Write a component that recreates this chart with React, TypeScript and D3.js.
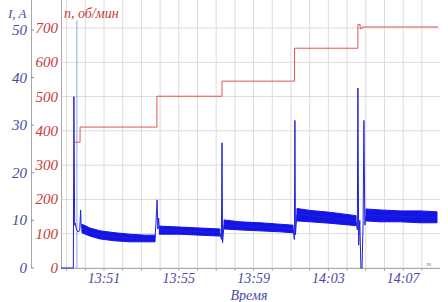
import React from "react";
import * as d3 from "d3";

// time in minutes after 13:00
const xDomain = [48.7, 68.97];
const timeTicks = [51, 55, 59, 63, 67];
const timeTickLabels = ["13:51", "13:55", "13:59", "14:03", "14:07"];
const gridMinutes = [49, 50, 51, 52, 53, 54, 55, 56, 57, 58, 59, 60, 61, 62, 63, 64, 65, 66, 67, 68];

const rpmTicks = [0, 100, 200, 300, 400, 500, 600, 700];
const ampTicks = [0, 10, 20, 30, 40, 50];

// speed n, rpm (step-after)
const rpmTime = [49.4, 49.72, 53.83, 57.31, 61.19, 64.58, 64.7, 64.8, 68.86];
const rpmVal = [367, 411, 501, 545, 641, 710, 698, 703, 703];

// current I, A (spikes and mean trace)
const ampTime = [48.7, 49.36, 49.39, 49.43, 49.47, 49.52, 49.6, 49.7, 49.75, 49.78, 49.82, 50.25, 50.79, 51.59, 52.39, 53.19, 53.73, 53.78, 53.84, 53.88, 53.92, 53.96, 55.06, 56.13, 57.2, 57.28, 57.31, 57.34, 57.42, 58.27, 59.34, 60.41, 61.11, 61.18, 61.21, 61.24, 61.32, 62.02, 63.09, 64.48, 64.55, 64.58, 64.62, 64.68, 64.74, 64.8, 64.86, 64.9, 64.95, 65.01, 65.76, 66.83, 67.9, 68.81];
const ampVal = [0, 0, 36, 9.0, 9.4, 8.2, 7.6, 7.8, 12.2, 8.6, 8.3, 7.5, 6.9, 6.5, 6.3, 6.2, 6.2, 9.5, 14.3, 8.2, 10.5, 8.0, 7.8, 7.6, 7.4, 6.0, 26.3, 5.3, 9.1, 8.8, 8.6, 8.4, 8.2, 6.0, 31, 7.0, 11.3, 11.0, 10.6, 9.8, 8.0, 37.8, 4.8, 10, 0, 0, 10, 31, 9, 11.1, 11.0, 10.8, 10.7, 10.6];

// noisy band envelope of current (null = gap)
const bandTime = [49.82, 50.25, 50.79, 51.59, 52.39, 53.19, 53.73, 0, 53.96, 55.06, 56.13, 57.2, 0, 57.42, 58.27, 59.34, 60.41, 61.11, 0, 61.32, 62.02, 63.09, 64.48, 0, 65.01, 65.76, 66.83, 67.9, 68.81];
const bandLo = [7.4, 6.7, 6.1, 5.7, 5.5, 5.5, 5.5, null, 7.1, 7.1, 6.9, 6.7, null, 8.2, 8.0, 7.8, 7.6, 7.4, null, 9.9, 9.7, 9.4, 8.9, null, 9.9, 9.7, 9.7, 9.5, 9.5];
const bandHi = [9.2, 8.4, 7.8, 7.4, 7.1, 6.9, 6.9, null, 8.8, 8.6, 8.4, 8.2, null, 10.1, 9.7, 9.5, 9.2, 9.0, null, 12.5, 12.1, 11.7, 11.0, null, 12.4, 12.2, 12.0, 12.0, 11.8];

// faint transient line at start
const transientTime = [49.55, 49.55];
const transientVal = [0, 52];

const W = 448;
const H = 302;
const left = 61;
const right = 440;
const bottom = 268;
const serif = "'Liberation Serif', 'DejaVu Serif', serif";
const blueText = "#4a4aa6";
const redText = "#c83a3a";

export default function App() {
  const x = d3.scaleLinear().domain(xDomain).range([left, right]);
  const yR = d3.scaleLinear().domain([0, 700]).range([bottom, 28]);
  const yI = d3.scaleLinear().domain([0, 50]).range([bottom, 30]);

  const rpmLine = d3
    .line<number>()
    .x((_, i) => x(rpmTime[i]))
    .y((v) => yR(v))
    .curve(d3.curveStepAfter)(rpmVal);

  const ampLine = d3
    .line<number>()
    .x((_, i) => x(ampTime[i]))
    .y((v) => yI(v))(ampVal);

  const band = d3
    .area<number | null>()
    .defined((v) => v !== null)
    .x((_, i) => x(bandTime[i]))
    .y0((v) => yI(v as number))
    .y1((_, i) => yI(bandHi[i] as number))(bandLo);

  const transient = d3
    .line<number>()
    .x((_, i) => x(transientTime[i]))
    .y((v) => yI(v))(transientVal);

  return (
    <svg width={W} height={H} style={{ position: "absolute", left: 0, top: 0, background: "#fff" }}>
      {/* grid */}
      {gridMinutes.map((m) => (
        <line key={"gv" + m} x1={x(m)} x2={x(m)} y1={0} y2={bottom} stroke="#dcdcdc" strokeWidth={1} />
      ))}
      {rpmTicks.map((t) => (
        <line key={"gh" + t} x1={left} x2={right} y1={yR(t)} y2={yR(t)} stroke="#dcdcdc" strokeWidth={1} />
      ))}
      {/* axes lines */}
      <line x1={31.5} x2={31.5} y1={0} y2={bottom} stroke="#a8a8a8" />
      <line x1={left + 0.5} x2={left + 0.5} y1={0} y2={bottom} stroke="#a8a8a8" />
      <line x1={left} x2={right} y1={bottom + 0.5} y2={bottom + 0.5} stroke="#a8a8a8" />
      {gridMinutes.map((m) => (
        <line key={"tk" + m} x1={x(m)} x2={x(m)} y1={bottom} y2={bottom + 3} stroke="#a8a8a8" />
      ))}
      {ampTicks.map((t) => (
        <line key={"ta" + t} x1={31} x2={34} y1={yI(t)} y2={yI(t)} stroke="#8888bb" />
      ))}
      {/* blue current axis labels */}
      {ampTicks.map((t) => (
        <text key={"la" + t} x={27} y={yI(t) + 5} textAnchor="end" fontFamily={serif} fontStyle="italic" fontSize={15} fill={blueText}>
          {t}
        </text>
      ))}
      {/* red speed axis labels */}
      {rpmTicks.map((t) => (
        <text key={"lr" + t} x={58} y={yR(t) + 5} textAnchor="end" fontFamily={serif} fontStyle="italic" fontSize={15} fill={redText}>
          {t}
        </text>
      ))}
      <text x={8} y={18} fontFamily={serif} fontStyle="italic" fontSize={13} fill={blueText}>
        I, A
      </text>
      <text x={64} y={18} fontFamily={serif} fontStyle="italic" fontSize={14} fill={redText}>
        n, об/мин
      </text>
      {/* time labels */}
      {timeTicks.map((t, i) => (
        <text key={"lt" + t} x={x(t)} y={283} textAnchor="middle" fontFamily={serif} fontStyle="italic" fontSize={14} fill={blueText}>
          {timeTickLabels[i]}
        </text>
      ))}
      <text x={249} y={300} textAnchor="middle" fontFamily={serif} fontStyle="italic" fontSize={14} fill={blueText}>
        Время
      </text>
      <text x={429} y={267} textAnchor="middle" fontFamily={serif} fontSize={8} fill="#5050c0">
        ≈
      </text>
      {/* data */}
      <path d={transient ?? ""} fill="none" stroke="#8fa8d8" strokeWidth={1} />
      <path d={rpmLine ?? ""} fill="none" stroke="#e05555" strokeWidth={1} />
      <path d={band ?? ""} fill="#1414e6" stroke="#1414e6" strokeWidth={1} strokeLinejoin="round" />
      <path d={ampLine ?? ""} fill="none" stroke="#2020e0" strokeWidth={1} />
    </svg>
  );
}
